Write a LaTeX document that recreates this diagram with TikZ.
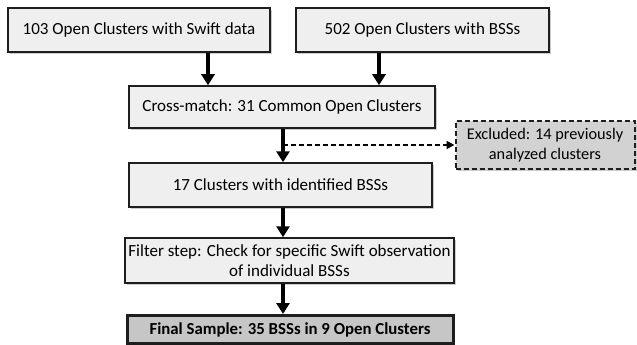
\documentclass[tikz,border=0pt]{standalone}
\usepackage{fontspec}
\setmainfont{Carlito}
\usetikzlibrary{arrows.meta,shadows}
\definecolor{boxfill}{HTML}{EFEFEF}
\definecolor{exfill}{HTML}{D2D2D2}
\definecolor{finfill}{HTML}{C6C6C6}
\definecolor{edge}{HTML}{1E1E1E}
\tikzset{
  flowbox/.style={draw=edge, line width=1.5pt, fill=boxfill, rectangle, inner sep=0pt, align=center,
    font=\fontsize{17}{20.5}\selectfont,
    drop shadow={shadow xshift=2pt, shadow yshift=-2pt, fill=black!40, opacity=0.5}},
  exbox/.style={flowbox, fill=exfill, line width=2pt, dash pattern=on 5pt off 3pt, font=\fontsize{16.3}{20}\selectfont},
  finbox/.style={flowbox, fill=finfill, line width=3pt, font=\fontsize{16.8}{20}\selectfont\bfseries},
  mainarrow/.style={draw=black, line width=4pt, -{Triangle[width=13pt,length=11pt]}},
  dasharrow/.style={draw=black, line width=1.8pt, dash pattern=on 5pt off 3pt, -{Triangle[width=8pt,length=8pt]}}
}
\begin{document}
\begin{tikzpicture}[x=1pt,y=-1pt]
\useasboundingbox (0,0) rectangle (637,345);
\node[flowbox, minimum width=262pt, minimum height=44pt] (b1) at (139,30) {103 Open Clusters with Swift data};
\node[flowbox, minimum width=253pt, minimum height=44pt] (b2) at (422.5,30) {502 Open Clusters with BSSs};
\node[flowbox, minimum width=306pt, minimum height=42pt] (cm) at (282,107) {Cross-match: 31 Common Open Clusters};
\node[exbox, minimum width=179pt, minimum height=48pt] (ex) at (545,145) {Excluded: 14 previously\\analyzed clusters};
\node[flowbox, minimum width=303pt, minimum height=44pt] (c17) at (280.5,185) {17 Clusters with identified BSSs};
\node[flowbox, minimum width=329pt, minimum height=45pt] (flt) at (289.5,260.5) {Filter step: Check for specific Swift observation\\of individual BSSs};
\node[finbox, minimum width=326pt, minimum height=28pt] (fin) at (290,329.5) {Final Sample: 35 BSSs in 9 Open Clusters};
\coordinate (xa) at (208,0);
\coordinate (xb) at (379,0);
\coordinate (xm) at (283,0);
\coordinate (split) at (283,145);
\draw[mainarrow] (b1.south -| xa) -- (cm.north -| xa);
\draw[mainarrow] (b2.south -| xb) -- (cm.north -| xb);
\draw[mainarrow] (cm.south -| xm) -- (c17.north -| xm);
\draw[dasharrow] (split) -- (ex.west |- split);
\draw[mainarrow] (c17.south -| xm) -- (flt.north -| xm);
\draw[mainarrow] (flt.south -| xm) -- (fin.north -| xm);
\end{tikzpicture}
\end{document}
